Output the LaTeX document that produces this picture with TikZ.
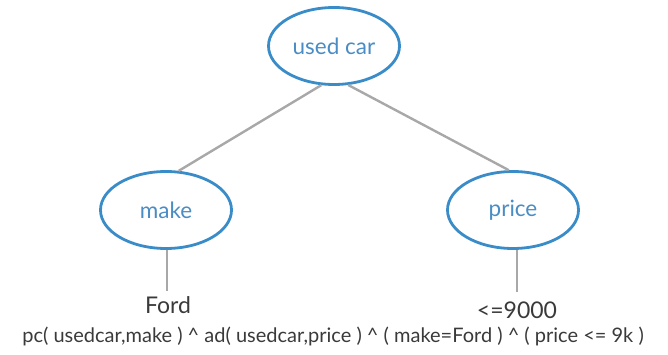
\documentclass[tikz,border=0pt]{standalone}
\usepackage{fontspec}
\setmainfont{Lato}
\usetikzlibrary{shapes.geometric}
\definecolor{ellblue}{HTML}{3A8CC8}
\definecolor{lblblue}{HTML}{4A8CC4}
\definecolor{edgegray}{HTML}{A8A8A8}
\definecolor{txtgray}{HTML}{3A3A3A}
\begin{document}
\begin{tikzpicture}[x=1pt,y=-1pt,
  concept/.style={ellipse, draw=ellblue, line width=2.8pt, minimum width=131pt, minimum height=77pt, inner sep=0pt, text=lblblue, font=\fontsize{22.5}{24}\selectfont},
  link/.style={draw=edgegray, line width=2.4pt},
  valtext/.style={text=txtgray, font=\fontsize{23}{25}\selectfont, inner sep=0pt},
]
\useasboundingbox (0,0) rectangle (668,355);
\node[concept] (u) at (334,46) {used car};
\node[concept] (m) at (166,210) {make};
\node[concept] (p) at (513,210) {price};
\node[valtext] (f) at (168,305) {Ford};
\node[valtext] (v) at (517,310) {<=9000};
\coordinate (fe) at (167,291);
\coordinate (ve) at (517,292);
\node[text=txtgray, font=\fontsize{20}{22}\selectfont, inner sep=0pt] (q) at (333,336) {pc( usedcar,make ) \textasciicircum\ ad( usedcar,price ) \textasciicircum\ ( make=Ford ) \textasciicircum\ ( price <= 9k )};
\draw[link] (u.252) -- (m.72);
\draw[link] (u.290) -- (p.96);
\draw[link] (m.south) ++(1pt,0) -- (fe);
\draw[link] (p.south) ++(4pt,0) -- (ve);
\end{tikzpicture}
\end{document}
